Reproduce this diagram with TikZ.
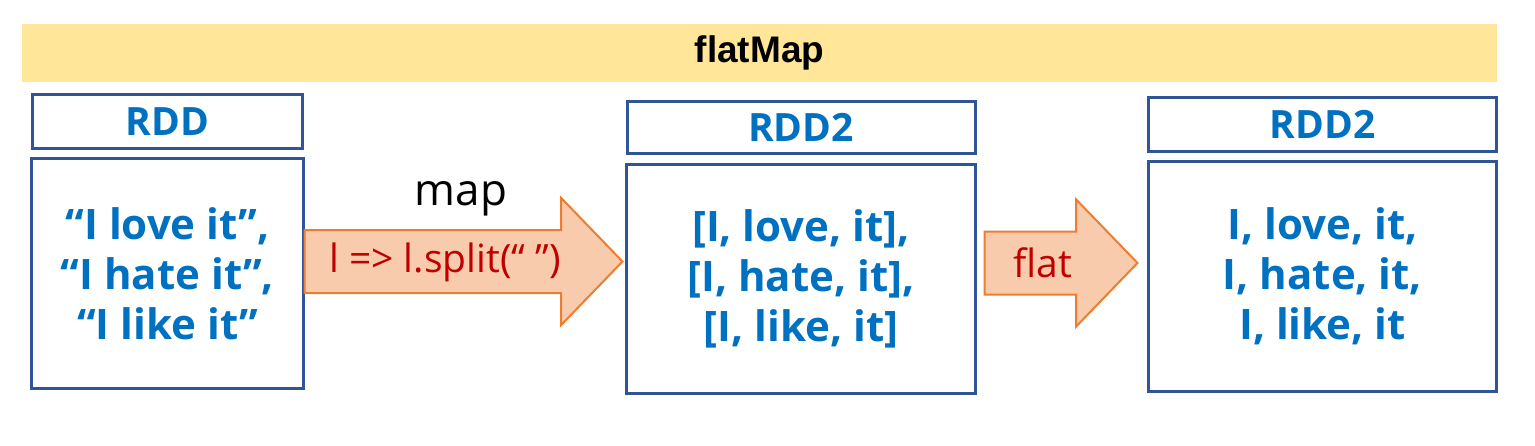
\documentclass[tikz,border=0pt]{standalone}
\usepackage{fontspec}
\setmainfont{Open Sans}
\newfontfamily\arialfont{Liberation Sans}
\usetikzlibrary{shapes.arrows}
\definecolor{rddblue}{HTML}{0070C0}
\definecolor{boxblue}{HTML}{2F5597}
\definecolor{barfill}{HTML}{FFE699}
\definecolor{arrowfill}{HTML}{F8CBAD}
\definecolor{arroworange}{HTML}{ED7D31}
\definecolor{opred}{HTML}{C00000}

\begin{document}
\begin{tikzpicture}[x=0.5pt,y=-0.5pt,node distance=76pt,
    box/.style={draw=boxblue,line width=1.5pt,inner sep=0pt,text=rddblue,align=center},
    head box/.style={box,font=\fontsize{19.5}{23}\selectfont\bfseries},
    body box/.style={box,font=\fontsize{21}{25}\selectfont\bfseries},
    block arrow/.style={single arrow,draw=arroworange,fill=arrowfill,line width=1pt,inner xsep=0pt,inner ysep=15.25pt,
        single arrow head extend=16pt,single arrow tip angle=92,anchor=west},
    op text/.style={text=opred,font=\fontsize{19.5}{23}\selectfont}]

    \useasboundingbox (0,0) rectangle (1535,445);

    \node[fill=barfill,minimum width=737.5pt,minimum height=29pt,inner sep=0pt,
        font=\arialfont\fontsize{18.5}{22}\selectfont\bfseries] (0) at (759.5,53) {flatMap};

    \node[body box,minimum width=136pt,minimum height=115pt] (2) at (167.5,273.5)
        {“I love it”,\\“I hate it”,\\“I like it”};
    \node[head box,minimum width=135pt,minimum height=27pt] (1) [above of = 2] {RDD};

    \node[body box,minimum width=174.5pt,minimum height=114.5pt] (4) at (801,279)
        {[I, love, it],\\{}[I, hate, it],\\{}[I, like, it]};
    \node[head box,minimum width=174pt,minimum height=26pt] (3) [above of = 4] {RDD2};

    \node[body box,minimum width=174pt,minimum height=115pt] (6) at (1322.5,276.5)
        {I, love, it,\\I, hate, it,\\I, like, it};
    \node[head box,minimum width=174pt,minimum height=27pt] (5) [above of = 6] {RDD2};

    \node[block arrow,minimum height=159pt] (a1) at (303.5,261.5) {};
    \node[op text] (l1) at (445,262) {l => l.split(“ ”)};
    \node[font=\fontsize{22}{26}\selectfont,anchor=base] (m1) at (461,205) {map};

    \node[block arrow,minimum height=76.5pt] (a2) at (983.5,263) {};
    \node[op text] (l2) at (1043,263) {flat};
\end{tikzpicture}
\end{document}
